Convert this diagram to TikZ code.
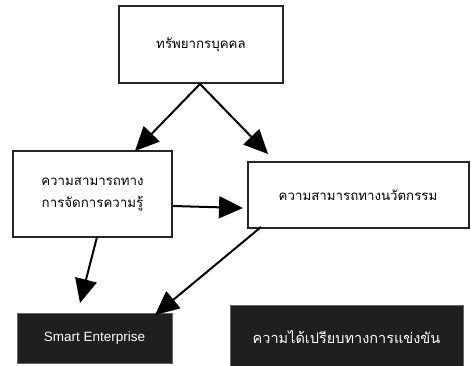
\documentclass[tikz,border=0pt]{standalone}
\usepackage{fontspec}
\setmainfont{Liberation Sans}
\newfontfamily\thaifont[Script=Thai]{Loma}
\usetikzlibrary{arrows.meta}
\begin{document}
\begin{tikzpicture}[x=1pt,y=-1pt,
  wbox/.style={draw=black!85, line width=2pt, fill=white, inner sep=0pt, font=\thaifont\fontsize{13.3}{22}\selectfont, align=center},
  dbox/.style={draw=black!60, line width=0.8pt, fill=black!88, text=white, inner sep=0pt, align=center},
  arr/.style={line width=2pt, -{Triangle[length=24pt,width=22pt]}}]
\useasboundingbox (0,0) rectangle (471,366);
\node[wbox, minimum width=164pt, minimum height=77pt] (hr) at (201,45) {ทรัพยากรบุคคล};
\node[wbox, minimum width=159pt, minimum height=86pt] (km) at (92.5,194) {ความสามารถทาง\\การจัดการความรู้};
\node[wbox, minimum width=221pt, minimum height=66pt] (inn) at (358,195) {ความสามารถทางนวัตกรรม};
\node[dbox, minimum width=155pt, minimum height=50pt, font=\fontsize{13.5}{15}\selectfont] (se) at (94.5,338) {Smart Enterprise};
\node[dbox, minimum width=233pt, minimum height=64pt, font=\thaifont\fontsize{14.5}{17}\selectfont] (ca) at (346.5,337) {ความได้เปรียบทางการแข่งขัน};
\coordinate (hrb) at (200,84);
\draw[arr] (hrb) -- (135,151);
\draw[arr] (hrb) -- (268,154);
\draw[arr] (km.east |- 0,206) -- (243,208);
\draw[arr] (97,237) -- (80,303);
\draw[arr] (261,227) -- (155,315);
\end{tikzpicture}
\end{document}
